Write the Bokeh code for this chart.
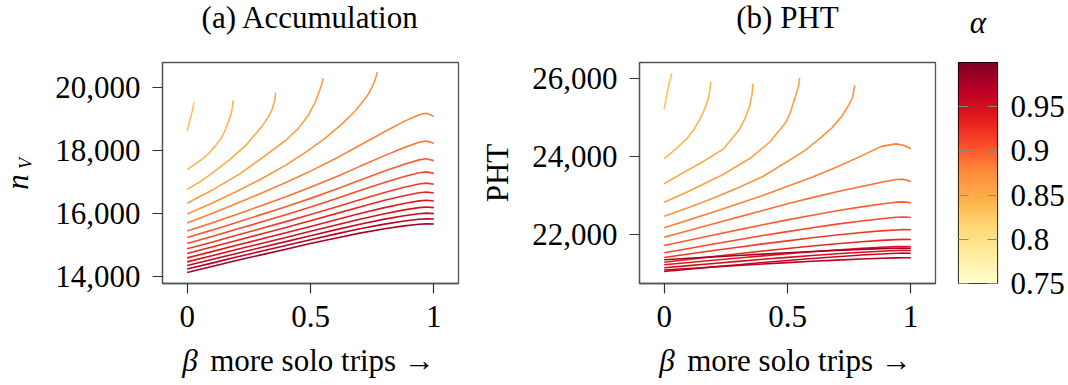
import numpy as np
from bokeh.plotting import figure
from bokeh.models import Range1d, LinearAxis, FixedTicker, NumeralTickFormatter, LinearColorMapper
from bokeh.core.properties import value
from bokeh.layouts import row, column
from bokeh.embed import file_html
from bokeh.resources import INLINE

# ---------------- data ----------------
alphas = [0.83, 0.84, 0.85, 0.86, 0.87, 0.88, 0.89, 0.90, 0.91, 0.92, 0.93, 0.94, 0.95, 0.96, 0.97, 0.98]

# Accumulation: short arcs (first five alphas)
acc_arc_beta = [
    [0, 0.007, 0.016, 0.023, 0.027],
    [0, 0.03, 0.061, 0.09, 0.115, 0.14, 0.156, 0.176, 0.183, 0.186],
    [0, 0.05, 0.095, 0.17, 0.237, 0.305, 0.33, 0.345, 0.355, 0.359],
    [0, 0.1, 0.21, 0.3, 0.4, 0.45, 0.49, 0.519, 0.539, 0.547, 0.551],
    [0, 0.1, 0.2, 0.3, 0.4, 0.49, 0.56, 0.627, 0.68, 0.709, 0.735, 0.749, 0.762, 0.771],
]
acc_arc_n = [
    [18613, 18844, 19111, 19321, 19533],
    [17397, 17560, 17733, 17930, 18159, 18420, 18686, 19111, 19350, 19587],
    [16771, 17000, 17248, 17700, 18159, 18794, 19080, 19321, 19600, 19841],
    [16327, 16740, 17248, 17750, 18330, 18700, 19111, 19533, 19956, 20150, 20295],
    [15990, 16330, 16700, 17100, 17540, 18000, 18400, 18844, 19250, 19533, 19800, 20010, 20250, 20495],
]
full_beta = [0, 0.1, 0.2, 0.3, 0.4, 0.5, 0.6, 0.7, 0.8, 0.88, 0.94, 0.97, 1.0]
acc_full_n = [
    [15698, 16000, 16320, 16650, 16990, 17350, 17740, 18170, 18600, 18930, 19140, 19190, 19089],
    [15448, 15705, 15975, 16253, 16537, 16834, 17153, 17501, 17842, 18101, 18265, 18305, 18232],
    [15241, 15475, 15719, 15968, 16220, 16484, 16763, 17062, 17352, 17570, 17707, 17741, 17683],
    [15051, 15272, 15501, 15733, 15967, 16210, 16463, 16731, 16988, 17178, 17297, 17326, 17279],
    [14883, 15093, 15310, 15526, 15745, 15970, 16202, 16443, 16673, 16839, 16942, 16968, 16930],
    [14733, 14937, 15146, 15353, 15561, 15774, 15991, 16213, 16422, 16570, 16662, 16685, 16654],
    [14594, 14792, 14994, 15191, 15390, 15593, 15796, 16001, 16190, 16323, 16404, 16424, 16400],
    [14467, 14661, 14859, 15051, 15244, 15439, 15632, 15823, 15998, 16118, 16190, 16209, 16190],
    [14349, 14541, 14736, 14923, 15110, 15298, 15483, 15662, 15824, 15933, 15997, 16014, 16000],
    [14238, 14428, 14621, 14804, 14987, 15170, 15348, 15517, 15667, 15766, 15823, 15838, 15829],
    [14130, 14320, 14510, 14690, 14870, 15050, 15220, 15380, 15520, 15610, 15660, 15675, 15670],
]

# PHT
pht_arc_beta = [
    [0, 0.01, 0.02, 0.031],
    [0, 0.045, 0.09, 0.12, 0.145, 0.165, 0.178, 0.185, 0.189],
    [0, 0.064, 0.15, 0.239, 0.306, 0.33, 0.347, 0.356, 0.36],
    [0, 0.1, 0.239, 0.35, 0.43, 0.493, 0.509, 0.533, 0.545, 0.549],
    [0, 0.1, 0.2, 0.3, 0.4, 0.493, 0.57, 0.628, 0.68, 0.722, 0.75, 0.763, 0.773],
]
pht_arc_v = [
    [25218, 25550, 25850, 26128],
    [23941, 24180, 24442, 24680, 24953, 25220, 25464, 25680, 25898],
    [23303, 23540, 23840, 24186, 24697, 25000, 25295, 25580, 25857],
    [22833, 23110, 23540, 23960, 24380, 24868, 25080, 25550, 25800, 26010],
    [22475, 22700, 22940, 23200, 23490, 23847, 24150, 24442, 24730, 25040, 25330, 25500, 25814],
]
pht_full_v = [
    [22179, 22381, 22583, 22794, 23006, 23238, 23471, 23733, 24015, 24258, 24322, 24288, 24197],
    [21939, 22110, 22280, 22451, 22622, 22792, 22949, 23098, 23233, 23340, 23411, 23418, 23361],
    [21727, 21861, 21994, 22125, 22256, 22381, 22501, 22612, 22713, 22786, 22833, 22841, 22817],
    [21540, 21652, 21764, 21872, 21980, 22081, 22180, 22272, 22354, 22411, 22447, 22454, 22442],
    [21420, 21509, 21597, 21682, 21767, 21845, 21923, 21993, 22057, 22100, 22124, 22132, 22128],
    [21300, 21373, 21445, 21515, 21584, 21648, 21712, 21770, 21822, 21857, 21877, 21883, 21880],
    [21234, 21292, 21351, 21406, 21462, 21514, 21565, 21611, 21653, 21681, 21698, 21702, 21700],
    [21157, 21212, 21268, 21321, 21374, 21422, 21471, 21515, 21555, 21581, 21597, 21601, 21599],
    [21063, 21121, 21180, 21236, 21292, 21343, 21395, 21441, 21483, 21511, 21528, 21532, 21530],
    [21101, 21140, 21179, 21216, 21254, 21288, 21323, 21354, 21382, 21401, 21411, 21415, 21413],
    [21362, 21399, 21436, 21472, 21507, 21540, 21572, 21602, 21628, 21646, 21657, 21659, 21658],
]

acc_ticks = [14000, 16000, 18000, 20000]
pht_ticks = [22000, 24000, 26000]
beta_ticks = [0, 0.5, 1]
cbar_ticks = [0.75, 0.8, 0.85, 0.9, 0.95]
titles = ["(a) Accumulation", "(b) PHT"]
xlabel_sym = "β"
xlabel_rest = "more solo trips →"

# ---------------- style / layout ----------------
FONT = "Liberation Serif"
FS = "31px"
AXC = "#555555"
HEAD_H, FOOT_H = 40, 42
TOP, BOTTOM = 22, 58
FW, FH = 296, 221
W0 = 40
L1, R1 = 122, 10
L2, R2 = 171, 10
L3, CW, R3 = 13, 39, 70
TOTAL_W = W0 + (L1 + FW + R1) + (L2 + FW + R2) + (L3 + CW + R3)
XR = (-0.1, 1.1)

base = ["#ffffcc", "#ffeda0", "#fed976", "#feb24c", "#fd8d3c",
        "#fc4e2a", "#e31a1c", "#bd0026", "#800026"]


def _rgb(h):
    return [int(h[i:i + 2], 16) for i in (1, 3, 5)]


def make_palette(n=256):
    out = []
    for i in range(n):
        t = i / (n - 1) * (len(base) - 1)
        k = min(int(t), len(base) - 2)
        f = t - k
        a, b = _rgb(base[k]), _rgb(base[k + 1])
        c = [round(a[j] + (b[j] - a[j]) * f) for j in range(3)]
        out.append("#%02x%02x%02x" % tuple(c))
    return out


PAL = make_palette()
LOW, HIGH = 0.75, 1.0


def color_of(a):
    idx = int(round((a - LOW) / (HIGH - LOW) * (len(PAL) - 1)))
    return PAL[max(0, min(len(PAL) - 1, idx))]


def blank(p):
    p.axis.visible = False
    p.grid.visible = False
    p.outline_line_color = None
    p.background_fill_color = "white"
    p.border_fill_color = "white"


def make_panel(yr, yticks, left_border):
    p = figure(frame_width=FW, frame_height=FH,
               x_range=Range1d(*XR), y_range=Range1d(*yr),
               output_backend="svg", toolbar_location=None,
               min_border_left=left_border, min_border_right=10,
               min_border_top=TOP, min_border_bottom=BOTTOM)
    p.grid.visible = False
    p.outline_line_color = AXC
    p.outline_line_width = 1.3
    p.background_fill_color = "white"
    p.border_fill_color = "white"
    p.xaxis.ticker = FixedTicker(ticks=beta_ticks)
    p.xaxis.major_label_overrides = {0: "0", 0.5: "0.5", 1: "1"}
    p.yaxis.ticker = FixedTicker(ticks=yticks)
    p.yaxis.formatter = NumeralTickFormatter(format="0,0")
    for ax in list(p.xaxis) + list(p.yaxis):
        ax.major_label_text_font = FONT
        ax.major_label_text_font_size = FS
        ax.major_label_text_color = "black"
        ax.axis_line_color = AXC
        ax.axis_line_width = 1.3
        ax.major_tick_line_color = "#333333"
        ax.major_tick_line_width = 1.2
        ax.major_tick_out = 10
        ax.major_tick_in = 0
        ax.minor_tick_out = 0
        ax.minor_tick_in = 0
        ax.axis_label_text_font = FONT
        ax.axis_label_text_font_size = FS
        ax.axis_label_text_font_style = "normal"
        ax.axis_label_text_color = "black"
        ax.major_label_standoff = 12
    p.xaxis.major_label_standoff = 12
    return p


def draw(p, arc_x, arc_y, full_y):
    for i in range(5):
        p.line(arc_x[i], arc_y[i], line_color=color_of(alphas[i]), line_width=1.6)
    for j, ys in enumerate(full_y):
        p.line(full_beta, ys, line_color=color_of(alphas[5 + j]), line_width=1.6)


# header strip with the panel titles and the colour-bar title
x1_left = W0 + L1
x2_left = W0 + L1 + FW + R1 + L2
x3_left = W0 + L1 + FW + R1 + L2 + FW + R2 + L3
head = figure(width=TOTAL_W, height=HEAD_H, x_range=Range1d(0, TOTAL_W), y_range=Range1d(HEAD_H, 0),
              output_backend="svg", toolbar_location=None, min_border=0)
blank(head)
head.text(x=[x1_left + FW / 2, x2_left + FW / 2], y=[17, 17], text=titles,
          text_font=value(FONT), text_font_size=FS, text_align="center",
          text_baseline="middle", text_color="black")
head.text(x=[x3_left + CW / 2], y=[22], text=["α"], text_font=value(FONT), text_font_size=FS,
          text_font_style="italic", text_align="center", text_baseline="middle",
          text_color="black")

# narrow strip holding the rotated y label n_V of panel (a)
p0 = figure(frame_width=W0, frame_height=FH, x_range=Range1d(0, W0), y_range=Range1d(0, FH),
            output_backend="svg", toolbar_location=None,
            min_border_left=0, min_border_right=0, min_border_top=TOP, min_border_bottom=BOTTOM)
blank(p0)
p0.text(x=[17], y=[101.5], text=["n"], angle=np.pi / 2, text_font=value(FONT),
        text_font_size="31px", text_font_style="italic", text_align="center",
        text_baseline="middle", text_color="black")
p0.text(x=[25], y=[120], text=["V"], angle=np.pi / 2, text_font=value(FONT),
        text_font_size="18px", text_font_style="italic", text_align="center",
        text_baseline="middle", text_color="black")

p1 = make_panel((13780, 20800), acc_ticks, L1)
draw(p1, acc_arc_beta, acc_arc_n, acc_full_n)

p2 = make_panel((20756, 26400), pht_ticks, L2)
draw(p2, pht_arc_beta, pht_arc_v, pht_full_v)
p2.yaxis.axis_label = "PHT"
p2.yaxis.axis_label_standoff = 14

# colour bar
p3 = figure(frame_width=CW, frame_height=FH, x_range=Range1d(0, 1), y_range=Range1d(LOW, HIGH),
            output_backend="svg", toolbar_location=None,
            min_border_left=L3, min_border_right=R3, min_border_top=TOP, min_border_bottom=BOTTOM)
p3.grid.visible = False
p3.xaxis.visible = False
p3.background_fill_color = "white"
p3.border_fill_color = "white"
grad = np.linspace(LOW, HIGH, 256).reshape(256, 1)
p3.image(image=[grad], x=0, y=LOW, dw=1, dh=HIGH - LOW,
         color_mapper=LinearColorMapper(palette=PAL, low=LOW, high=HIGH))
p3.outline_line_color = "black"
p3.outline_line_width = 1.2
la = p3.yaxis[0]
la.ticker = FixedTicker(ticks=cbar_ticks)
la.major_label_overrides = {t: "" for t in cbar_ticks}
la.major_label_standoff = 0
ra = LinearAxis(ticker=FixedTicker(ticks=cbar_ticks))
ra.major_label_overrides = {0.75: "0.75", 0.8: "0.8", 0.85: "0.85", 0.9: "0.9", 0.95: "0.95"}
p3.add_layout(ra, "right")
for ax in (la, ra):
    ax.axis_line_color = None
    ax.major_tick_in = 10
    ax.major_tick_out = 0
    ax.major_tick_line_color = "#888888"
    ax.major_tick_line_width = 1.2
    ax.minor_tick_in = 0
    ax.minor_tick_out = 0
    ax.major_label_text_font = FONT
    ax.major_label_text_font_size = FS
    ax.major_label_text_color = "black"
ra.major_label_standoff = 13


# footer strip with the x-axis labels (italic beta + upright words)
def tick0(left):
    return left + (0 - XR[0]) / (XR[1] - XR[0]) * FW


foot = figure(width=TOTAL_W, height=FOOT_H, x_range=Range1d(0, TOTAL_W), y_range=Range1d(FOOT_H, 0),
              output_backend="svg", toolbar_location=None, min_border=0)
blank(foot)
t1, t2 = tick0(x1_left), tick0(x2_left)
foot.text(x=[t1 - 5, t2 - 5], y=[19, 19], text=[xlabel_sym, xlabel_sym], text_font=value(FONT),
          text_font_size=FS, text_font_style="italic", text_align="left",
          text_baseline="middle", text_color="black")
foot.text(x=[t1 + 23, t2 + 23], y=[19, 19], text=[xlabel_rest, xlabel_rest], text_font=value(FONT),
          text_font_size=FS, text_align="left", text_baseline="middle", text_color="black")

layout = column(head, row(p0, p1, p2, p3), foot)
open("out.html", "w").write(file_html(layout, INLINE))
